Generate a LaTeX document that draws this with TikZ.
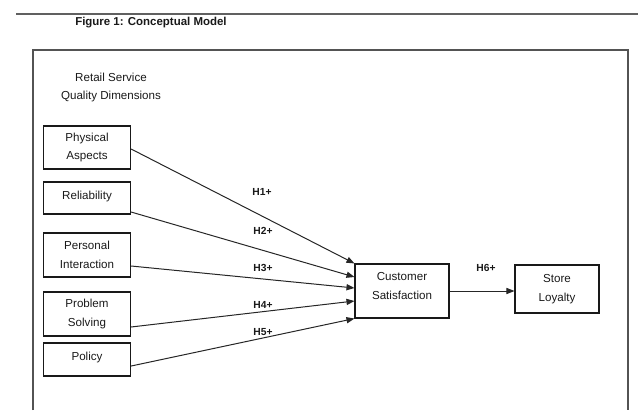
\documentclass[tikz,border=0pt]{standalone}
\usepackage{fontspec}
\setmainfont{Liberation Sans}
\usetikzlibrary{arrows.meta}
\begin{document}
\begin{tikzpicture}[x=0.75pt,y=-0.75pt,
  every node/.style={font=\fontsize{8.7pt}{14pt}\selectfont, text=black!90},
  dimbox/.style={draw=black!90, line width=0.8pt, minimum width=65.25pt, inner sep=0pt, align=center},
  hyp/.style={font=\fontsize{7.7pt}{9pt}\selectfont\bfseries, inner sep=0pt},
  link/.style={draw=black!85, line width=0.75pt, -{Triangle[length=6pt,width=4.6pt]}}]
  \useasboundingbox (0,0) rectangle (638,410);

  % heading rule and caption
  \draw[gray!75!black, line width=1.4pt] (16,14) -- (638,14);
  \node[font=\fontsize{8.6pt}{10pt}\selectfont\bfseries, anchor=west, inner sep=0pt] (title) at (75,23) {Figure 1: Conceptual Model};

  % outer frame, open at the bottom
  \draw[gray!65!black, line width=1.1pt] (33,410) -- (33,50) -- (628,50) -- (628,410);

  \node[align=center, inner sep=0pt] (group) at (111,87.5) {Retail Service\\Quality Dimensions};

  % service quality dimensions
  \node[dimbox, minimum height=32.25pt] (pa)  at (87,147.5) {Physical\\Aspects};
  \node[dimbox, minimum height=24pt, text depth=4.8pt]    (rel) at (87,198)   {Reliability};
  \node[dimbox, minimum height=33pt]    (pi)  at (87,255)   {Personal\\Interaction};
  \node[dimbox, minimum height=33pt]    (ps)  at (87,314)   {Problem\\Solving};
  \node[dimbox, minimum height=24.75pt, text depth=4.8pt] (pol) at (87,359.5) {Policy};

  % outcomes
  \node[dimbox, minimum width=70.5pt, minimum height=40.5pt, text depth=7.5pt] (cs) at (402,291) {Customer\\Satisfaction};
  \node[dimbox, minimum width=63pt, minimum height=36pt] (sl) at (557,289) {Store\\Loyalty};

  % hypothesised paths
  \draw[link] ([yshift=-1.1pt]pa.east)   -- (cs.north west);
  \draw[link] ([yshift=-10.5pt]rel.east) -- ([yshift=10.5pt]cs.west);
  \draw[link] ([yshift=-8.25pt]pi.east)  -- ([yshift=2.25pt]cs.west);
  \draw[link] ([yshift=-9.75pt]ps.east)  -- ([yshift=-7.5pt]cs.west);
  \draw[link] ([yshift=-4.9pt]pol.east)  -- (cs.south west);
  \draw[link] (cs.east) -- (cs.east -| sl.west);

  \node[hyp] (h1) at (262,192) {H1+};
  \node[hyp] (h2) at (263,231) {H2+};
  \node[hyp] (h3) at (263,268) {H3+};
  \node[hyp] (h4) at (263,305) {H4+};
  \node[hyp] (h5) at (263,332) {H5+};
  \node[hyp] (h6) at (486,268) {H6+};
\end{tikzpicture}
\end{document}
